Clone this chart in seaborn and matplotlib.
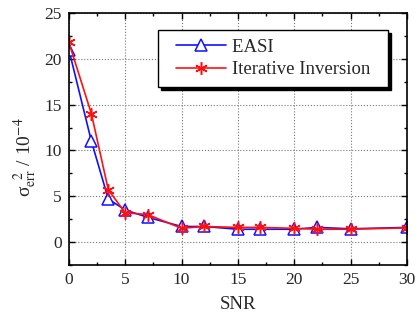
import pandas as pd
import matplotlib
matplotlib.use("Agg")
import matplotlib.pyplot as plt
import seaborn as sns
from matplotlib.ticker import MultipleLocator
from matplotlib.lines import Line2D
from matplotlib.legend_handler import HandlerLine2D

# SNR values and error variance (x 10^-4)
snr = [0, 2, 3.5, 5, 7, 10, 12, 15, 17, 20, 22, 25, 30]
easi = [21.0, 11.0, 4.7, 3.5, 2.7, 1.7, 1.7, 1.4, 1.4, 1.4, 1.6, 1.45, 1.6]
iterative = [21.8, 14.0, 5.7, 3.2, 3.0, 1.5, 1.7, 1.6, 1.6, 1.5, 1.4, 1.4, 1.55]

sns.set_style("ticks")
plt.rcParams['font.family'] = ['Liberation Serif', 'DejaVu Serif']
plt.rcParams['mathtext.fontset'] = 'stix'
plt.rcParams['xtick.direction'] = 'in'
plt.rcParams['ytick.direction'] = 'in'

df = pd.DataFrame({'SNR': snr, 'EASI': easi, 'Iterative Inversion': iterative})

fig = plt.figure(figsize=(4.2, 3.2), dpi=100)
ax = fig.add_axes([0.164, 0.172, 0.805, 0.787])

sns.lineplot(data=df, x='SNR', y='EASI', ax=ax, color='#1010ff', linewidth=1.2,
             marker='^', markersize=8, markerfacecolor='white',
             markeredgecolor='#1010ff', markeredgewidth=1.1, label='EASI')
sns.lineplot(data=df, x='SNR', y='Iterative Inversion', ax=ax, color='#ff1010',
             linewidth=1.2, marker=(6, 2, 0), markersize=9,
             markeredgecolor='#ff1010', markeredgewidth=1.1,
             label='Iterative Inversion')

ax.set_xlim(0, 30)
ax.set_ylim(-2.5, 25)
ax.xaxis.set_major_locator(MultipleLocator(5))
ax.xaxis.set_minor_locator(MultipleLocator(2.5))
ax.yaxis.set_major_locator(MultipleLocator(5))
ax.yaxis.set_minor_locator(MultipleLocator(2.5))
ax.tick_params(which='both', top=True, right=True, labelsize=12.5, width=1, color='black')
ax.tick_params(which='major', length=4, pad=5)
ax.tick_params(which='minor', length=2.5)
ax.grid(True, which='major', linestyle=':', color='#777777', linewidth=0.8)
for s in ax.spines.values():
    s.set_color('black')
    s.set_linewidth(1.2)

ax.set_xlabel('SNR', fontsize=13.5, labelpad=6)
ax.set_ylabel(r'σ$_{\mathrm{err}}^{\ \ 2}$ / 10$^{-4}$', fontsize=14)
ax.yaxis.set_label_coords(-0.088, 0.43)

leg = ax.legend(loc='upper left', bbox_to_anchor=(158 / 420, 1 - 30 / 320),
                bbox_transform=fig.transFigure, fontsize=13.5, fancybox=False,
                framealpha=1, edgecolor='black', handlelength=3.2,
                borderpad=0.45, labelspacing=0.3, handletextpad=0.3,
                borderaxespad=0,
                handler_map={Line2D: HandlerLine2D(xpad=0.5)},
                shadow={'color': 'black', 'alpha': 1})
leg.get_frame().set_linewidth(1.0)
for t in leg.get_texts():
    t.set_text(t.get_text() + '\u00a0\u00a0')

fig.savefig('out.png', dpi=100)
